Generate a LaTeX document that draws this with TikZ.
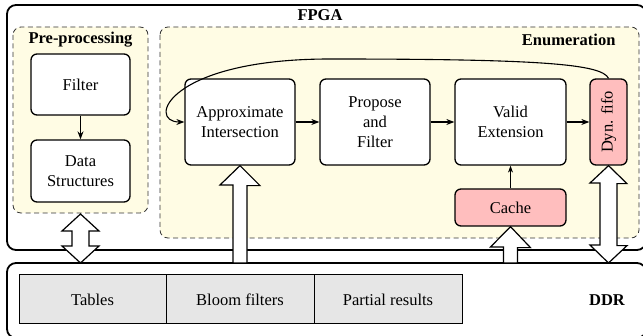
\documentclass[tikz,border=0pt]{standalone}
\usepackage{fontspec}
\setmainfont{Liberation Serif}
\newfontfamily\tnr{Liberation Serif}
\usetikzlibrary{calc,arrows.meta}
\definecolor{enumyellow}{RGB}{255,252,228}
\definecolor{pinkbox}{RGB}{255,190,190}
\definecolor{greycell}{RGB}{230,230,230}
\tikzset{
  base/.style={font=\tnr\fontsize{16.5}{20}\selectfont},
  stagebox/.style={base, draw, line width=1.3pt, rounded corners=6pt, fill=white, align=center, inner sep=0pt},
  pinkbox/.style={stagebox, fill=pinkbox},
  cell/.style={base, draw, line width=1pt, fill=greycell, minimum height=49pt, inner sep=0pt},
  region/.style={draw=black!80, dashed, dash pattern=on 5pt off 3.5pt, line width=0.8pt, fill=enumyellow, rounded corners=8pt},
  outer/.style={draw, line width=1.8pt, rounded corners=9pt, fill=white},
  title/.style={font=\tnr\fontsize{16.5}{20}\selectfont\bfseries},
  flow/.style={-{Stealth[length=8pt,width=6pt]}, line width=1.1pt},
  thinflow/.style={-{Stealth[length=7pt,width=5pt]}, line width=0.8pt},
  bigarrow/.style={draw, line width=1.2pt, fill=white, line join=miter},
}
\begin{document}
\begin{tikzpicture}[x=1pt,y=-1pt]
\useasboundingbox (0,0) rectangle (643,336);
% outer boxes
\draw[outer] (7,5) rectangle (646,250);
\node[title] (fpga) at (320,15) {FPGA};
\draw[outer] (7,263) rectangle (646,338);
\node[title] (ddr) at (607,300) {DDR};
% regions
\draw[region] (13,27) rectangle (148,213);
\node[title] (prelbl) at (80.5,40) {Pre-processing};
\draw[region] (160,27) rectangle (639,238);
\node[title, anchor=east] (enumlbl) at (619,40) {Enumeration};
% pre-processing nodes
\node[stagebox, minimum width=99pt, minimum height=61pt] (filter) at (80.5,84.5) {Filter};
\node[stagebox, minimum width=99pt, minimum height=62pt] (ds) at (80.5,171) {Data\\Structures};
\draw[flow] (filter) -- (ds);
% enumeration nodes
\node[stagebox, minimum width=110pt, minimum height=86pt] (ai) at (240,122) {Approximate\\Intersection};
\node[stagebox, minimum width=110pt, minimum height=86pt] (pf) at (375,122) {Propose\\and\\Filter};
\node[stagebox, minimum width=111pt, minimum height=86pt] (ve) at (510.5,122) {Valid\\Extension};
\node[pinkbox, minimum width=37pt, minimum height=86pt] (fifo) at (608.5,122) {};
\node[base, rotate=90] (fifolbl) at (fifo.center) {Dyn. fifo};
\node[pinkbox, minimum width=111pt, minimum height=37pt] (cache) at (510.5,207.5) {Cache};
\draw[flow] (ai) -- (pf);
\draw[flow] (pf) -- (ve);
\draw[flow] (ve) -- (fifo);
\draw[thinflow] (cache) -- (ve);
\draw[flow] (fifo.north) .. controls (602,64) and (540,59) .. (330,59) .. controls (168,59) and (146,122) .. (ai.west);
% DDR cells
\node[cell, minimum width=147pt] (tables) at (92.5,299.5) {Tables};
\node[cell, minimum width=148pt] (bloom) at (240,299.5) {Bloom filters};
\node[cell, minimum width=148pt] (partial) at (388,299.5) {Partial results};
% big arrows
\coordinate (ddrtopA) at (240,263);
\coordinate (ddrtopC) at (510.5,263);
\coordinate (ddrtopF) at (608.5,263);
\coordinate (ddrtopP) at (80.5,263);
\coordinate (preb) at (80.5,214);
% pre-processing <-> DDR
\draw[bigarrow] (preb) -- ++(18.5,17) -- ++(-10,0) -- ++(0,15) -- ++(10,0) -- (ddrtopP) -- ++(-18.5,-17) -- ++(10,0) -- ++(0,-15) -- ++(-10,0) -- cycle;
% DDR -> Approximate Intersection
\draw[bigarrow] (ai.south) -- ++(20,20) -- ++(-13,0) |- (ddrtopA) -- ++(-7,0) -- ++(0,-78) -- ++(-13,0) -- cycle;
% DDR -> Cache
\draw[bigarrow] (cache.south) -- ++(20,21) -- ++(-13,0) |- (ddrtopC) -- ++(-7,0) -- ++(0,-16) -- ++(-13,0) -- cycle;
% fifo <-> DDR
\draw[bigarrow] (fifo.south) -- ++(18.5,18) -- ++(-10,0) -- ++(0,62) -- ++(10,0) -- (ddrtopF) -- ++(-18.5,-18) -- ++(10,0) -- ++(0,-62) -- ++(-10,0) -- cycle;
\end{tikzpicture}
\end{document}
